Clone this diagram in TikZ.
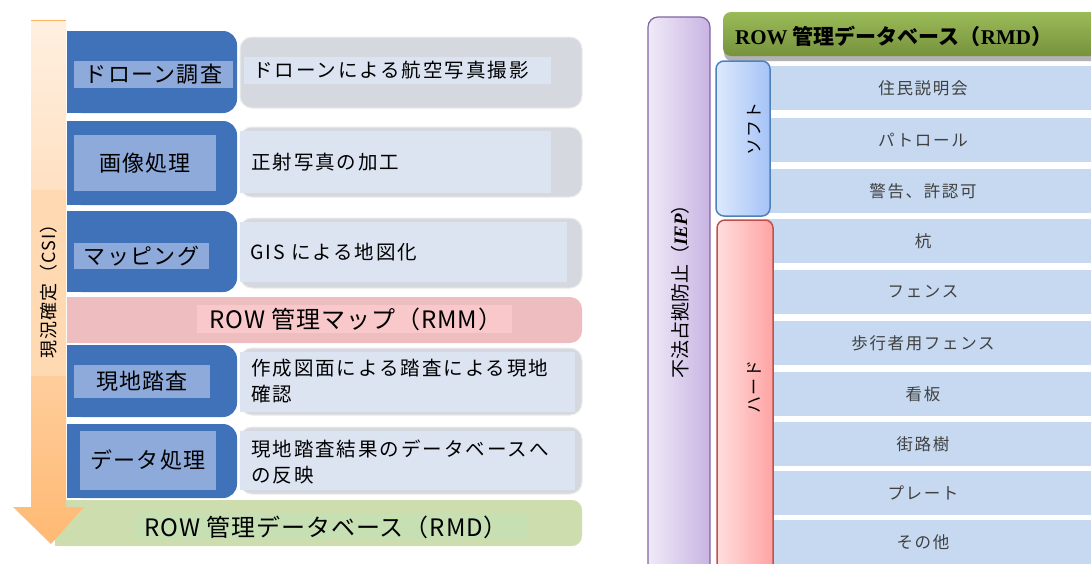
\documentclass[tikz,border=0pt]{standalone}
\usepackage{fontspec}
\setmainfont{Liberation Serif}
\newfontfamily\jp{Noto Sans CJK JP}
\newfontfamily\jpw{Noto Sans CJK JP}[LetterSpace=10]
\newfontfamily\jpm{Noto Sans CJK JP}[LetterSpace=6]
\newfontfamily\jpb{Noto Sans CJK JP}[LetterSpace=4]
\usetikzlibrary{shadows}
\definecolor{bluebox}{HTML}{4072BA}
\definecolor{bluelab}{HTML}{8EAADB}
\definecolor{greyout}{HTML}{D5D9DF}
\definecolor{greyin}{HTML}{DCE4F2}
\definecolor{pinkbar}{HTML}{EDBDBF}
\definecolor{pinklab}{HTML}{F8C8CA}
\definecolor{greenbar}{HTML}{CDDDAE}
\definecolor{greenlab}{HTML}{C6E0B4}
\definecolor{rowblue}{HTML}{C6D9F1}
\definecolor{rowtext}{HTML}{404040}
\definecolor{hdrtop}{HTML}{9BBB59}
\definecolor{hdrbot}{HTML}{76923C}
\definecolor{softl}{HTML}{DDE9FC}
\definecolor{softr}{HTML}{A5C3F7}
\definecolor{softb}{HTML}{4F81BD}
\definecolor{hardl}{HTML}{FFDEDE}
\definecolor{hardr}{HTML}{FFA3A3}
\definecolor{hardb}{HTML}{C0504D}
\definecolor{purl}{HTML}{F0EAF8}
\definecolor{purr}{HTML}{C8B4E2}
\definecolor{purb}{HTML}{8064A2}
\tikzset{
  stepblue/.style={fill=bluebox, rounded corners=14pt},
  steplab/.style={fill=bluelab, inner sep=0pt, font=\jpm\fontsize{22}{26}\selectfont, text=black},
  greybox/.style={fill=greyout, draw=white!85!gray, line width=1pt, rounded corners=12pt},
  greyinner/.style={fill=greyin},
  desc/.style={anchor=west, align=left, inner sep=0pt, font=\jpw\fontsize{19.5}{26}\selectfont, text=black},
  barlabel/.style={anchor=west, inner sep=0pt, font=\jpb\fontsize{24}{26}\selectfont, text=black},
  rowbox/.style={fill=rowblue, minimum width=330pt, minimum height=44pt, anchor=north west, inner sep=0pt},
  rowlabel/.style={font=\jpw\fontsize{16.5}{20}\selectfont, text=rowtext},
}
\begin{document}
\begin{tikzpicture}[x=1pt,y=-1pt]
\useasboundingbox (0,0) rectangle (1091,563);
\clip (0,0) rectangle (1091,563);
% ---------- left part ----------
% green RMD bar
\fill[greenbar, rounded corners=10pt] (55,500) rectangle (582,546);
\fill[greenbar] (55,500) rectangle (300,546);
\node[fill=greenlab, minimum width=392pt, minimum height=27pt, inner sep=0pt] (rmdlab) at (332,526.5) {};
\node[barlabel] (rmd) at (144,527) {ROW 管理データベース（RMD）};
% pink RMM bar
\fill[pinkbar, rounded corners=12pt] (67,297) rectangle (582,343);
\fill[pinkbar] (67,297) rectangle (300,343);
\node[fill=pinklab, minimum width=315pt, minimum height=28pt, inner sep=0pt] (rmmlab) at (354.5,319) {};
\node[barlabel] (rmm) at (209,319) {ROW 管理マップ（RMM）};
% grey description boxes
\foreach \ya/\yb in {37/108,127/197,218/288,348/415,427/494}{
  \path[greybox] (240,\ya) rectangle (582,\yb);
}
\fill[greyinner] (244,57) rectangle (551,84);
\fill[greyinner] (240,131) rectangle (551,193);
\fill[greyinner] (240,222) rectangle (567,282);
\fill[greyinner] (240,352) rectangle (575,412);
\fill[greyinner] (240,431) rectangle (575,490);
\node[desc] (d1) at (253,70.5) {ドローンによる航空写真撮影};
\node[desc] (d2) at (251,162) {正射写真の加工};
\node[desc] (d3) at (250,252) {GIS による地図化};
\node[desc] (d4) at (251,381) {作成図面による踏査による現地\\確認};
\node[desc] (d5) at (251,462) {現地踏査結果のデータベースへ\\の反映};
% blue step boxes
\foreach \ya/\yb in {31/113,121/205,211/292,345/417,424/498}{
  \fill[stepblue] (67,\ya) rectangle (237,\yb);
  \fill[bluebox] (67,\ya) rectangle (150,\yb);
}
\node[steplab, minimum width=159pt, minimum height=27pt] (s1) at (153.5,74.5) {ドローン調査};
\node[steplab, minimum width=142pt, minimum height=56pt] (s2) at (145,163) {画像処理};
\node[steplab, minimum width=135pt, minimum height=26pt] (s3) at (141.5,256) {マッピング};
\node[steplab, minimum width=136pt, minimum height=33pt] (s4) at (142,381.5) {現地踏査};
\node[steplab, minimum width=136pt, minimum height=59pt] (s5) at (148,460.5) {データ処理};
% big arrow
\shade[top color=orange!12!white, bottom color=orange!55!white, middle color=orange!30!white]
  (31,20) -- (66,20) -- (66,507) -- (84,507) -- (51,544) -- (13,507) -- (31,507) -- cycle;
\draw[orange!60!white, line width=0.8pt] (31,20) -- (66,20);
\fill[orange!30!white] (31,190) rectangle (66,376);
\node[rotate=90, inner sep=0pt, font=\jpm\fontsize{18}{20}\selectfont] (csi) at (48.5,287) {現況確定（CSI）};
% ---------- right part ----------
% rows
\foreach \y/\t [count=\i] in {66/住民説明会,118/パトロール,169/警告、許認可,219/杭,270/フェンス,321/歩行者用フェンス,372/看板,422/街路樹,471/プレート,520/その他}{
  \node[rowbox] (row\i) at (765,\y) {};
  \node[rowlabel] (rl\i) at (923,\y+22) {\t};
}
% purple IEP bar
\draw[draw=purb, line width=1.2pt, rounded corners=10pt, left color=purl, right color=purr]
  (648,17) rectangle (710,590);
\node[rotate=90, inner sep=0pt, font=\jp\fontsize{19}{20}\selectfont] (iep) at (680,287)
  {不法占拠防止（{\rmfamily\bfseries\itshape IEP}）};
% header
\fill[gray!60, rounded corners=8pt] (724,16) rectangle (1110,61);
\draw[draw=none, rounded corners=8pt, top color=hdrtop, bottom color=hdrbot] (723,12) rectangle (1110,56);
\node[anchor=west, inner sep=0pt, font=\fontsize{21}{24}\selectfont] (hdr) at (735,36)
  {\bfseries ROW {\jp 管理データベース（}RMD{\jp ）}};
% soft tab
\draw[draw=softb, line width=1.5pt, rounded corners=8pt, left color=softl, right color=softr]
  (716,61) rectangle (770,216);
\node[rotate=90, inner sep=0pt, font=\jpm\fontsize{17}{20}\selectfont] (soft) at (754,129) {ソフト};
% hard tab
\draw[draw=hardb, line width=1.5pt, rounded corners=8pt, left color=hardl, right color=hardr]
  (717,220) rectangle (773,590);
\node[rotate=90, inner sep=0pt, font=\jpm\fontsize{17}{20}\selectfont] (hard) at (754,387) {ハード};
\end{tikzpicture}
\end{document}
